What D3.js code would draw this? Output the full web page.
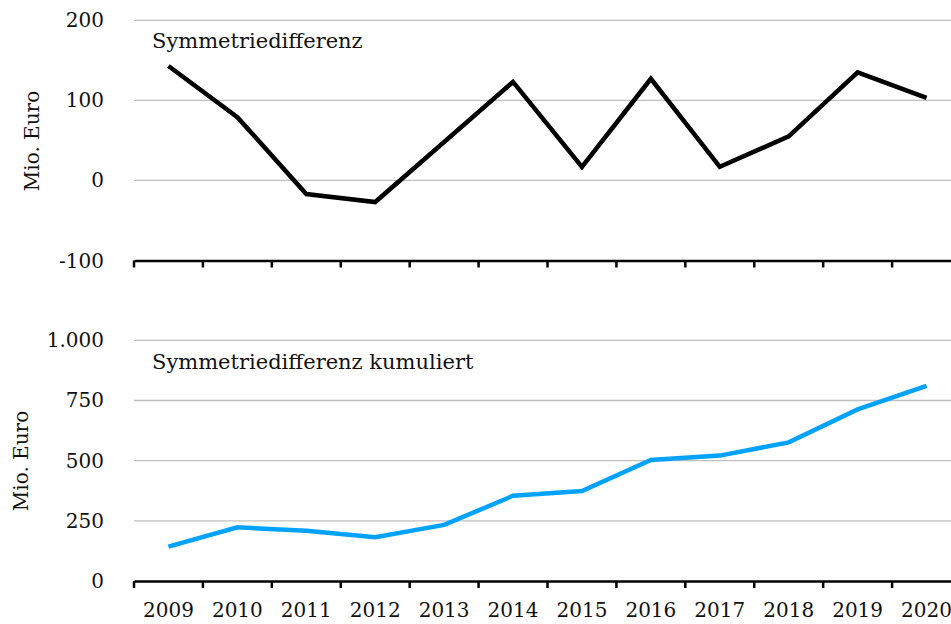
<!DOCTYPE html>
<html>
<head>
<meta charset="utf-8">
<script src="https://cdn.jsdelivr.net/npm/d3@7"></script>
<style>
  body { margin: 0; background: #fff; }
  text { font-family: "DejaVu Serif", "Liberation Serif", serif; fill: #111; }
</style>
</head>
<body>
<script>
// chart data
let years = ['2009', '2010', '2011', '2012', '2013', '2014', '2015', '2016', '2017', '2018', '2019', '2020'];
let diffValues = [143, 79, -17, -27, 48, 123, 17, 127, 17, 55, 135, 103];     // Mio. Euro per year
let cumValues = [143, 223, 209, 182, 233, 354, 374, 503, 521, 576, 713, 811]; // cumulative
let topTicks = [-100, 0, 100, 200];
let bottomTicks = [0, 250, 500, 750, 1000];

let width = 951;
let height = 624;

let svg = d3.select('body').append('svg')
    .attr('width', width)
    .attr('height', height);

// shared category axis (runs a bit past the right edge, like the original)
let x = d3.scaleBand()
    .domain(years)
    .range([134, 961]);

// german thousands dot, plain hyphen for negatives
let fmt = d => d3.format(',')(d).replace(/,/g, '.').replace('\u2212', '-');

// one panel: gridlines, base axis, y labels, title and the line
function panel(cfg) {
    let y = d3.scaleLinear().domain(cfg.domain).range(cfg.range);
    let g = svg.append('g');

    // gridlines (not at the bottom, where the axis line is)
    g.selectAll('.grid').data(cfg.ticks.slice(1))
        .enter().append('line')
        .attr('x1', 134).attr('x2', width)
        .attr('y1', d => y(d)).attr('y2', d => y(d))
        .attr('stroke', '#c0c0c0').attr('stroke-width', 1.3);

    // y tick labels
    g.selectAll('.ylab').data(cfg.ticks)
        .enter().append('text')
        .attr('x', 104)
        .attr('y', d => y(d) + 7)
        .attr('text-anchor', 'end')
        .style('font-size', '20px')
        .text(fmt);

    // bottom axis line with ticks between categories
    let axis = d3.axisBottom(x).tickSize(0).tickFormat(cfg.showYears ? d => d : '');
    let ax = g.append('g')
        .attr('transform', 'translate(0,' + y(cfg.domain[0]) + ')')
        .call(axis);
    ax.select('.domain').attr('stroke', '#000').attr('stroke-width', 2.5);
    ax.selectAll('.tick text')
        .attr('dy', 0).attr('y', 36)
        .style('font-size', '20px')
        .style('font-family', '"DejaVu Serif", serif')
        .attr('fill', '#111');
    ax.selectAll('.sep').data(years.concat(['end']))
        .enter().append('line')
        .attr('class', 'sep')
        .attr('x1', (d, i) => 134 + i * x.step())
        .attr('x2', (d, i) => 134 + i * x.step())
        .attr('y1', 0).attr('y2', 7)
        .attr('stroke', '#000').attr('stroke-width', 2.5);

    // rotated unit label
    g.append('text')
        .attr('transform', 'translate(' + cfg.unitX + ',' + cfg.unitY + ') rotate(-90)')
        .attr('text-anchor', 'middle')
        .style('font-size', '20px')
        .text('Mio. Euro');

    // panel title
    g.append('text')
        .attr('x', 152).attr('y', cfg.titleY)
        .style('font-size', '21px')
        .text(cfg.title);

    // the line itself
    let line = d3.line()
        .x((d, i) => x(years[i]) + x.bandwidth() / 2)
        .y(d => y(d));
    g.append('path')
        .datum(cfg.values)
        .attr('d', line)
        .attr('fill', 'none')
        .attr('stroke', cfg.color)
        .attr('stroke-width', 4.5)
        .attr('stroke-linejoin', 'miter');
}

panel({
    domain: [-100, 200], range: [260.5, 20.3], ticks: topTicks,
    values: diffValues, color: '#000', title: 'Symmetriedifferenz',
    titleY: 48, unitX: 39, unitY: 141, showYears: false
});

panel({
    domain: [0, 1000], range: [581, 340.3], ticks: bottomTicks,
    values: cumValues, color: '#00a2ff', title: 'Symmetriedifferenz kumuliert',
    titleY: 369, unitX: 28, unitY: 461, showYears: true
});
</script>
</body>
</html>
